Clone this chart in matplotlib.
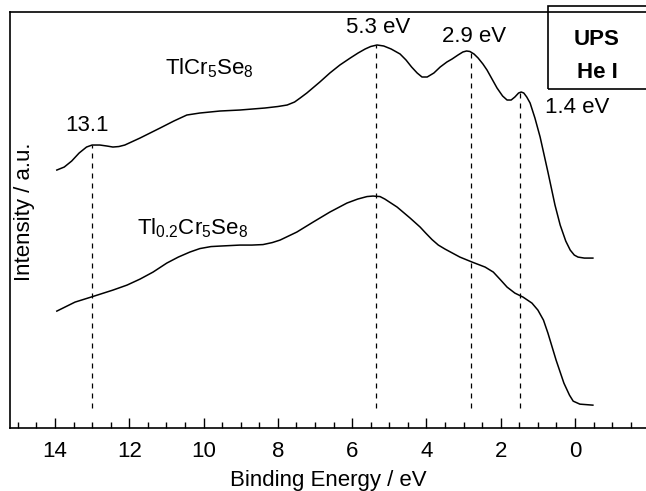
import matplotlib
matplotlib.use('Agg')
import matplotlib.pyplot as plt
from matplotlib.patches import Rectangle
from matplotlib.ticker import MultipleLocator

plt.rcParams['font.family'] = ['Liberation Sans', 'DejaVu Sans']
plt.rcParams['mathtext.fontset'] = 'custom'
plt.rcParams['mathtext.rm'] = 'Liberation Sans'
plt.rcParams['mathtext.it'] = 'Liberation Sans'

# TlCr5Se8 spectrum (binding energy in eV, intensity a.u.)
E_top = [13.95, 13.75, 13.55, 13.35, 13.15, 13.00, 12.79, 12.60, 12.44, 12.28,
         12.12, 11.71, 11.17, 10.80, 10.45, 10.10, 9.56, 9.02, 8.35, 8.00,
         7.75, 7.55, 7.40, 7.22, 6.87, 6.60, 6.33, 6.05, 5.84, 5.65,
         5.50, 5.33, 5.15, 4.95, 4.71, 4.55, 4.40, 4.25, 4.12, 3.98,
         3.80, 3.63, 3.45, 3.31, 3.15, 3.02, 2.92, 2.83, 2.72, 2.61,
         2.48, 2.37, 2.22, 2.10, 1.95, 1.83, 1.72, 1.62, 1.52, 1.45,
         1.38, 1.30, 1.21, 1.08, 0.94, 0.73, 0.54, 0.40, 0.25, 0.13,
         0.02, -0.08, -0.25, -0.48]
I_top = [2.58, 2.61, 2.67, 2.75, 2.81, 2.83, 2.83, 2.82, 2.81, 2.815,
         2.83, 2.90, 3.00, 3.07, 3.13, 3.15, 3.17, 3.18, 3.20, 3.215,
         3.23, 3.26, 3.30, 3.35, 3.46, 3.55, 3.63, 3.70, 3.75, 3.79,
         3.815, 3.83, 3.82, 3.79, 3.74, 3.68, 3.61, 3.55, 3.51, 3.51,
         3.55, 3.61, 3.66, 3.69, 3.73, 3.76, 3.77, 3.765, 3.74, 3.70,
         3.64, 3.58, 3.48, 3.40, 3.32, 3.28, 3.28, 3.31, 3.35, 3.36,
         3.35, 3.31, 3.25, 3.10, 2.91, 2.56, 2.23, 2.03, 1.87, 1.78,
         1.73, 1.71, 1.70, 1.70]

# Tl0.2Cr5Se8 spectrum
E_bot = [13.95, 13.46, 13.03, 12.44, 12.06, 11.71, 11.36, 10.99, 10.68, 10.37,
         10.10, 9.80, 9.56, 9.02, 8.70, 8.40, 8.15, 7.94, 7.49, 7.05,
         6.60, 6.14, 5.85, 5.60, 5.44, 5.25, 5.12, 4.79, 4.44, 4.17,
         4.02, 3.85, 3.68, 3.50, 3.10, 2.77, 2.42, 2.20, 2.00, 1.83,
         1.62, 1.40, 1.16, 1.00, 0.85, 0.73, 0.51, 0.30, 0.15, 0.05,
         -0.13, -0.48]
I_bot = [1.17, 1.26, 1.31, 1.38, 1.43, 1.49, 1.56, 1.65, 1.71, 1.76,
         1.795, 1.815, 1.82, 1.83, 1.83, 1.835, 1.855, 1.88, 1.96, 2.06,
         2.16, 2.25, 2.29, 2.315, 2.32, 2.315, 2.29, 2.21, 2.10, 2.01,
         1.95, 1.885, 1.83, 1.79, 1.71, 1.66, 1.61, 1.56, 1.48, 1.41,
         1.35, 1.31, 1.25, 1.18, 1.08, 0.95, 0.68, 0.45, 0.33, 0.27,
         0.24, 0.23]

# marked features
peak_E = [13.0, 5.36, 2.81, 1.48]
peak_top = [2.83, 3.83, 3.76, 3.36]
peak_labels = ['13.1', '5.3 eV', '2.9 eV', '1.4 eV']

fig = plt.figure(figsize=(6.46, 4.91), dpi=100)
ax = fig.add_axes([0.0155, 0.128, 0.9845, 0.8476])

ax.plot(E_top, I_top, color='black', lw=1.1)
ax.plot(E_bot, I_bot, color='black', lw=1.1)
ax.vlines(peak_E, 0.2, peak_top, colors='black', lw=0.9, linestyles=(0, (4, 4)))

ax.set_xlim(15.21, -1.91)
ax.set_ylim(0, 4.16)

fs = 16
ax.text(13.14, 3.03, peak_labels[0], fontsize=fs, ha='center', va='center')
ax.text(5.30, 4.00, peak_labels[1], fontsize=fs, ha='center', va='center')
ax.text(2.72, 3.91, peak_labels[2], fontsize=fs, ha='center', va='center')
ax.text(-0.05, 3.21, peak_labels[3], fontsize=fs, ha='center', va='center')

ax.text(11.04, 3.60, r'TlCr$_5$Se$_8$', fontsize=fs, ha='left', va='center')
ax.text(11.79, 2.00, r'Tl$_{0.2}$Cr$_5$Se$_8$', fontsize=fs, ha='left', va='center')

ax.text(0.006, 0.52, 'Intensity / a.u.', fontsize=fs, rotation=90,
        ha='left', va='center', transform=ax.transAxes)

# UPS / He I box
ax.add_patch(Rectangle((0.846, 0.815), 0.2, 0.2, transform=ax.transAxes,
                       fill=False, lw=1.2, color='black', clip_on=False))
ax.text(0.923, 0.935, 'UPS', fontsize=fs, fontweight='bold', ha='center',
        va='center', transform=ax.transAxes)
ax.text(0.923, 0.855, 'He I', fontsize=fs, fontweight='bold', ha='center',
        va='center', transform=ax.transAxes)

ax.spines['right'].set_visible(False)
for s in ['left', 'bottom', 'top']:
    ax.spines[s].set_linewidth(1.2)
ax.set_yticks([])
ax.xaxis.set_minor_locator(MultipleLocator(0.5))
ax.set_xticks([14, 12, 10, 8, 6, 4, 2, 0])
ax.tick_params(axis='x', which='major', direction='in', length=7, width=1,
               labelsize=fs, pad=9, top=False)
ax.tick_params(axis='x', which='minor', direction='in', length=4, width=1, top=False)
ax.set_xlabel('Binding Energy / eV', fontsize=fs, labelpad=6)

fig.savefig('out.png', dpi=100)
